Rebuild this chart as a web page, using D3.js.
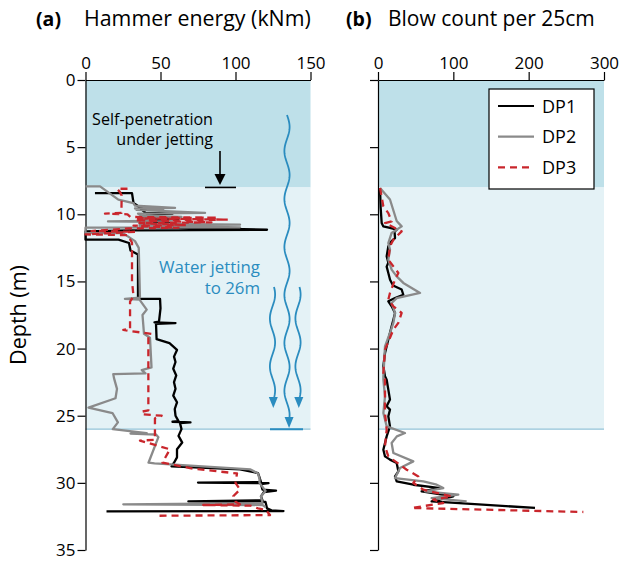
<!DOCTYPE html>
<html><head><meta charset="utf-8">
<script src="https://cdn.jsdelivr.net/npm/d3@7"></script>
<style>body{margin:0;background:#fff}svg{display:block}text{font-family:"Open Sans",sans-serif}</style>
</head><body><svg id="c" width="622" height="563"></svg>
<script>
// ---------- data: [depth (m), value] ----------
const energyTicks = [0, 50, 100, 150];
const blowTicks = [0, 100, 200, 300];
const depthTicks = [0, 5, 10, 15, 20, 25, 30, 35];
const seriesNames = ["DP1", "DP2", "DP3"];

const dp1Energy = [[8.42,6.3],[8.42,31],[9.16,32],[9.3,34],[9.5,36],[9.55,50],[9.6,37],[9.9,40],[9.95,58],[10.0,41],[10.3,43],[10.35,62],[10.4,44],[10.6,46],[10.65,58],[10.7,46],[10.97,47],[11.15,121],[11.2,30],[11.27,0],[11.89,0],[11.89,22],[12.14,29],[12.7,30],[13.0,35],[16.3,35],[16.3,49.7],[17.0,50],[18.0,49],[18.05,46],[18.1,60],[18.15,47],[19.3,47.4],[19.6,56],[20.1,61],[20.6,59],[21.0,60],[21.5,58.5],[22.0,60.5],[22.5,59],[23.0,60],[23.5,58.5],[24.0,61],[24.5,59.5],[25.0,60],[25.4,62],[25.45,58],[25.5,70],[25.55,63],[26.0,64],[26.5,62],[27.0,64.5],[27.5,61],[28.1,61],[28.5,59],[28.77,57.4],[29.0,103],[29.27,115],[29.6,116],[29.95,117],[29.98,75],[30.02,122],[30.1,117],[30.5,118],[30.58,127],[30.68,119],[31.0,117],[31.3,118],[31.38,68.6],[31.42,120],[31.9,121],[32.05,124],[32.1,132],[32.12,14]];
const dp2Energy = [[7.92,0],[7.92,9.7],[8.91,21.9],[9.16,31.9],[9.35,33],[9.53,59.7],[9.57,33],[9.62,51.9],[9.67,34],[9.9,79.7],[9.95,35],[10.1,37],[10.2,64],[10.25,36],[10.5,42],[10.53,15],[10.56,44],[10.7,36],[10.77,103],[10.82,36],[10.97,103],[11.0,0],[11.4,0],[11.4,25],[12.0,33],[12.5,35.5],[16.2,36.3],[16.3,26.3],[16.35,36],[17.1,40.8],[17.5,38],[18.9,39],[19.2,43],[21.4,44],[21.6,37.5],[21.85,40],[21.9,18.5],[22.2,19],[23.0,21],[23.7,20],[24.4,2],[24.8,18],[25.5,21.6],[26.0,18.2],[26.3,40.8],[26.33,30],[26.4,47],[26.6,48.6],[28.5,42],[28.55,46],[29.0,110],[29.3,115],[29.7,116],[30.0,116],[30.6,120],[31.0,117],[31.5,118],[31.6,25.2],[31.65,118],[31.8,120]];
const dp3Energy = [[8.1,28],[8.1,21],[8.35,23],[8.6,24.1],[9.4,24],[9.9,24],[9.95,13],[10.0,28],[10.2,30],[10.25,88],[10.3,35],[10.4,95],[10.45,33],[10.6,84],[10.65,36],[10.8,67],[10.85,32],[11.0,62],[11.05,29],[11.25,4],[11.3,33],[11.5,0],[11.55,28],[12.1,31],[15.0,31],[16.1,32],[16.5,29.7],[18.55,29.7],[18.6,25.2],[18.7,30],[18.9,44],[19.1,41.9],[24.6,41.9],[24.7,37.5],[24.9,38],[25.0,50.8],[25.2,46.3],[26.8,46.3],[26.85,36.3],[27.5,56.3],[28.5,51.3],[28.9,69.7],[28.95,72],[29.3,101],[30.0,100],[30.5,103],[31.0,98.5],[31.4,100],[31.6,103],[31.65,78.5],[31.7,110],[31.9,115],[32.0,120],[32.4,123],[32.45,46.3]];

const dp1Blow = [[8.04,2.7],[9.5,3.5],[10.65,4.9],[10.9,7],[11.02,15.9],[11.15,24.8],[11.3,22],[11.77,22.6],[12.0,18],[12.39,13.7],[13.13,11.5],[13.6,13.7],[13.9,11.5],[14.37,13.7],[14.87,16],[15.3,20],[15.6,31.4],[15.99,33.6],[16.24,22.6],[16.48,13.7],[16.85,18.1],[17.35,22.6],[17.85,20.4],[18.34,18.1],[19.33,13.7],[20.33,9.3],[21.3,7.1],[22.07,9.3],[22.32,11.5],[23.06,13.7],[23.8,15.9],[24.3,11.5],[24.55,15.9],[25.04,13.7],[25.79,15.9],[26.54,11.5],[27.53,7.1],[28.03,9.3],[28.27,15.9],[28.52,24.8],[29.14,27],[29.52,22.6],[29.89,24.8],[30.14,46.9],[30.39,82.3],[30.63,57.9],[31.01,100],[31.38,71.2],[31.87,208.4]];
const dp2Blow = [[8.04,2.7],[8.9,15.9],[10.5,24.8],[10.9,31.4],[11.39,18.1],[12.14,13.7],[12.63,15.9],[13.38,13.7],[14.12,18.1],[14.62,24.8],[15.11,33.6],[15.86,55.8],[16.24,24.8],[16.61,18.1],[17.35,22.6],[18.09,20.4],[18.84,15.9],[19.83,9.3],[22.07,7.1],[22.32,7.1],[23.56,9.3],[24.8,7.1],[25.79,11.5],[26.29,35.8],[26.54,25],[27.03,18.1],[27.78,20.4],[28.4,46.9],[28.9,29.2],[29.39,24.8],[29.64,22.6],[29.89,60.2],[30.14,77.9],[30.39,86.7],[30.63,62.4],[30.88,106.6],[31.13,71.2],[31.38,117.7]];
const dp3Blow = [[8.04,2.7],[9.41,7.1],[9.91,13.7],[10.53,18.1],[10.65,9.3],[11.27,31.4],[11.89,20.4],[12.39,15.9],[13.38,13.7],[13.88,20.4],[14.37,27],[14.87,22.6],[15.86,15.9],[16.36,13.7],[16.85,20.4],[17.35,31.4],[18.09,27],[18.59,20.4],[20.08,9.3],[21.82,7.1],[22.32,9.3],[24.8,9.3],[26.04,11.5],[27.28,9.3],[28.03,13.7],[29.02,38.1],[29.52,53.5],[30.01,46.9],[30.51,60.2],[31.01,97.8],[31.25,73.4],[31.5,86.7],[31.87,44.7],[32.17,272.6]];

const selfPenDepth = 8;   // m
const jetDepth = 26;      // m

// ---------- drawing ----------
const svg = d3.select("#c");
const y = d3.scaleLinear().domain([0, 35]).range([80, 550]);
const xA = d3.scaleLinear().domain([0, 150]).range([85.5, 310.5]);
const xB = d3.scaleLinear().domain([0, 300]).range([378, 604]);
const colors = {DP1: "#000000", DP2: "#8a8a8a", DP3: "#c9262c"};
const dashes = {DP1: null, DP2: null, DP3: "7,5"};

function bands(x) {
  const [x0, x1] = x.range();
  svg.append("rect").attr("x", x0).attr("y", y(0)).attr("width", x1 - x0).attr("height", y(selfPenDepth) - y(0)).attr("fill", "#bee0e9");
  svg.append("rect").attr("x", x0).attr("y", y(selfPenDepth)).attr("width", x1 - x0).attr("height", y(jetDepth) - y(selfPenDepth)).attr("fill", "#e4f2f6");
  svg.append("line").attr("x1", x0).attr("x2", x1).attr("y1", y(jetDepth)).attr("y2", y(jetDepth)).attr("stroke", "#93c3d8").attr("stroke-width", 1.2);
}
bands(xA); bands(xB);

function axes(x, ticks, labelsY) {
  const gx = svg.append("g").attr("transform", `translate(0,${y(0)})`)
    .call(d3.axisTop(x).tickValues(ticks).tickSize(8).tickSizeOuter(0).tickPadding(3));
  const gy = svg.append("g").attr("transform", `translate(${x.range()[0]},0)`)
    .call(d3.axisLeft(y).tickValues(depthTicks).tickSize(8).tickSizeOuter(0).tickPadding(2)
      .tickFormat(labelsY ? d3.format("d") : () => ""));
  [gx, gy].forEach(g => {
    g.selectAll("path,line").attr("stroke", "#000").attr("stroke-width", 1.2);
    g.selectAll("text").attr("font-size", 17).attr("fill", "#000").attr("font-family", "Open Sans");
  });
}
axes(xA, energyTicks, true);
axes(xB, blowTicks, false);

function series(x, data, name) {
  const line = d3.line().x(d => x(d[1])).y(d => y(d[0]));
  svg.append("path").datum(data).attr("d", line).attr("fill", "none")
    .attr("stroke", colors[name]).attr("stroke-width", 2.3)
    .attr("stroke-dasharray", dashes[name]).attr("stroke-linejoin", "round");
}
series(xA, dp1Energy, "DP1"); series(xA, dp2Energy, "DP2"); series(xA, dp3Energy, "DP3");
series(xB, dp1Blow, "DP1"); series(xB, dp2Blow, "DP2"); series(xB, dp3Blow, "DP3");

function fit(t, w) {
  const l = t.node().getComputedTextLength();
  const fs = parseFloat(t.attr("font-size"));
  t.attr("font-size", fs * w / l);
  return t;
}
// titles
svg.append("text").attr("x", 36).attr("y", 26).attr("font-size", 19.5).attr("font-weight", "bold").text("(a)");
fit(svg.append("text").attr("x", 84).attr("y", 26).attr("font-size", 19).text("Hammer energy (kNm)"), 227);
svg.append("text").attr("x", 346).attr("y", 26).attr("font-size", 19.5).attr("font-weight", "bold").text("(b)");
fit(svg.append("text").attr("x", 388).attr("y", 26).attr("font-size", 19).text("Blow count per 25cm"), 207);
fit(svg.append("text").attr("transform", "translate(26,315) rotate(-90)").attr("text-anchor", "middle").attr("font-size", 18).text("Depth (m)"), 100);

// self-penetration annotation
const t1 = fit(svg.append("text").attr("x", 213).attr("y", 125).attr("text-anchor", "end").attr("font-size", 15).text("Self-penetration"), 121);
svg.append("text").attr("x", 213).attr("y", 145).attr("text-anchor", "end").attr("font-size", t1.attr("font-size")).text("under jetting");
svg.append("line").attr("x1", 220).attr("x2", 220).attr("y1", 151).attr("y2", 176).attr("stroke", "#000").attr("stroke-width", 1.6);
svg.append("path").attr("d", "M214.5,174L225.5,174L220,185Z").attr("fill", "#000");
svg.append("line").attr("x1", 205).attr("x2", 236).attr("y1", y(selfPenDepth)).attr("y2", y(selfPenDepth)).attr("stroke", "#000").attr("stroke-width", 1.6);

// water jetting annotation
const blue = "#2a8cbf";
const t2 = fit(svg.append("text").attr("x", 260).attr("y", 273).attr("text-anchor", "end").attr("font-size", 16).attr("fill", blue).text("Water jetting"), 101);
svg.append("text").attr("x", 260).attr("y", 294).attr("text-anchor", "end").attr("font-size", t2.attr("font-size")).attr("fill", blue).text("to 26m");

function wave(cx, y0, yTip, period, amp, phase) {
  const yEnd = yTip - 8;
  const pts = d3.range(y0, yEnd + 0.5, 1).map(v => [cx + amp * Math.sin(2 * Math.PI * (v - y0) / period + phase), v]);
  svg.append("path").attr("d", d3.line()(pts)).attr("fill", "none").attr("stroke", blue).attr("stroke-width", 1.8);
  const ex = pts[pts.length - 1][0];
  svg.append("path").attr("d", `M${ex - 4.5},${yTip - 11}L${ex + 4.5},${yTip - 11}L${ex},${yTip}Z`).attr("fill", blue);
}
wave(287, 115, 428, 48, 2.6, 0);
wave(272.5, 287, 408, 48, 2.6, 0.6);
wave(298, 287, 408, 48, 2.6, 0.6);
svg.append("line").attr("x1", 270).attr("x2", 303).attr("y1", y(jetDepth)).attr("y2", y(jetDepth)).attr("stroke", blue).attr("stroke-width", 2);

// legend
const lg = svg.append("g");
lg.append("rect").attr("x", 489).attr("y", 89).attr("width", 105).attr("height", 100).attr("fill", "#fff").attr("stroke", "#000").attr("stroke-width", 1.2);
seriesNames.forEach((n, i) => {
  const yy = 106 + i * 30.7;
  lg.append("line").attr("x1", 498).attr("x2", 534).attr("y1", yy).attr("y2", yy)
    .attr("stroke", colors[n]).attr("stroke-width", 2.2).attr("stroke-dasharray", dashes[n]);
  lg.append("text").attr("x", 542).attr("y", yy + 6.5).attr("font-size", 18).text(n);
});
</script></body></html>
